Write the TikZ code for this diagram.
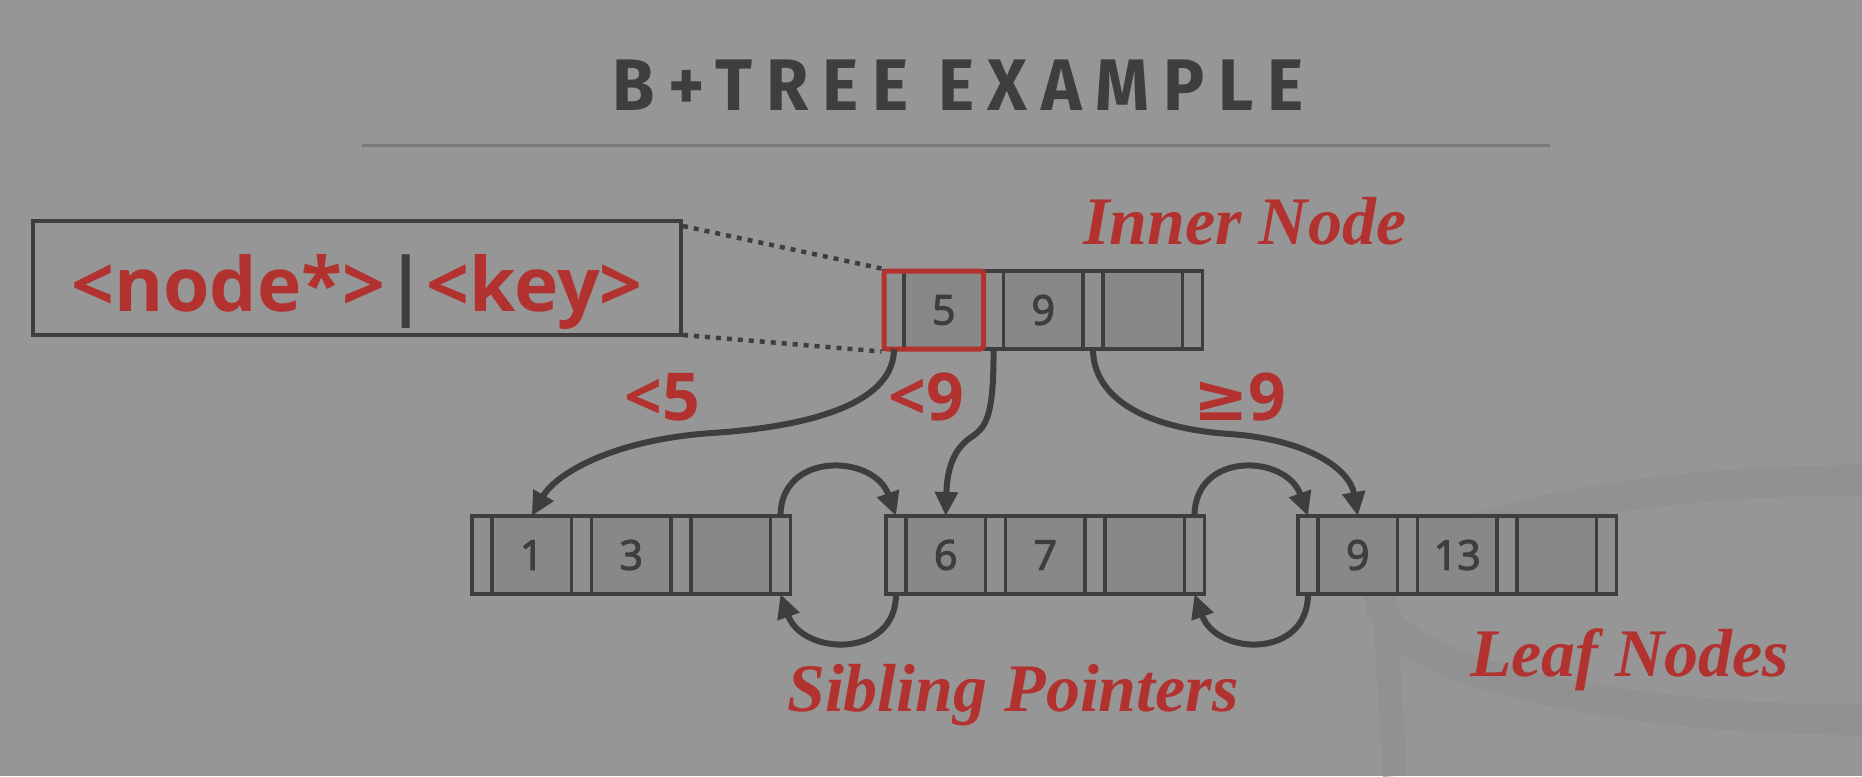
\documentclass[tikz,border=0pt]{standalone}
\usepackage{fontspec}
\usetikzlibrary{arrows.meta,calc,fit}
\newfontfamily\sansf{Open Sans}
\newfontfamily\keyf{Open Sans}[FakeBold=3]
\newfontfamily\symf{DejaVu Sans}
\newfontfamily\titlef{Fira Sans}[LetterSpace=20]
\newfontfamily\serift{Liberation Serif}
\definecolor{bg}{RGB}{150,150,150}
\definecolor{ink}{RGB}{62,62,62}
\definecolor{redt}{RGB}{178,50,48}
\definecolor{keyfill}{RGB}{136,136,136}
\definecolor{ptrfill}{RGB}{143,143,143}
\definecolor{wmdark}{RGB}{145,145,145}
\definecolor{rulec}{RGB}{122,122,122}
\tikzset{
  cell/.style={draw=ink, line width=3.5pt, inner sep=0pt, outer sep=0pt,
    minimum height=78pt, anchor=west},
  ptrcell/.style={cell, fill=ptrfill, minimum width=20pt},
  keycell/.style={cell, fill=keyfill, minimum width=79.5pt,
    font=\keyf\fontsize{41}{41}\selectfont, text=ink},
  link/.style={draw=ink, line width=6pt, -{Triangle[length=24pt,width=22pt]}},
  dotline/.style={draw=ink, line width=4.5pt, dash pattern=on 5pt off 6pt},
  redbox/.style={draw=redt, line width=5pt, rounded corners=3pt, inner sep=0pt},
  cond/.style={text=redt, inner sep=0pt, font=\sansf\bfseries\fontsize{66}{66}\selectfont},
  tag/.style={text=redt, inner sep=0pt, font=\serift\bfseries\itshape\fontsize{68}{68}\selectfont},
  wm/.style={draw=wmdark, line width=30pt},
}
\newcommand\btnode[6]{%
  \node[ptrcell] (#1p0) at (#2,#3) {};
  \node[keycell] (#1k1) at (#1p0.east) {#4};
  \node[ptrcell] (#1p1) at (#1k1.east) {};
  \node[keycell] (#1k2) at (#1p1.east) {#5};
  \node[ptrcell] (#1p2) at (#1k2.east) {};
  \node[keycell] (#1k3) at (#1p2.east) {#6};
  \node[ptrcell] (#1p3) at (#1k3.east) {};
}
\begin{document}
\begin{tikzpicture}[x=1pt,y=-1pt]
\fill[bg] (0,0) rectangle (1862,776);
\useasboundingbox (0,0) rectangle (1862,776);
% faint watermark
\begin{scope}
\clip (0,0) rectangle (1862,776);
\draw[wm] (1870,600) ellipse [x radius=490, y radius=120];
\draw[wm, line width=24pt] (1385,615) -- (1395,776);
\end{scope}
% title
\node[anchor=base, inner sep=0pt, text=ink] (title) at (958,110)
  {\scalebox{0.94}[1]{\titlef\bfseries\fontsize{73}{73}\selectfont B+TREE EXAMPLE}};
\draw[rulec, line width=3pt] (362,145) -- (1550,145);
% legend box
\node[draw=ink, line width=4pt, minimum width=648pt, minimum height=114pt, inner sep=0pt] (box) at (357,278) {};
\node[anchor=base, inner sep=0pt, font=\sansf\bfseries\fontsize{75}{75}\selectfont] (boxtxt) at (357,311)
  {\textcolor{redt}{<node*>}\textcolor{ink}{|}\textcolor{redt}{<key>}};
% nodes
\btnode{in}{884}{310}{5}{9}{}
\btnode{la}{472}{555}{1}{3}{}
\btnode{lb}{886}{555}{6}{7}{}
\btnode{lc}{1298}{555}{9}{13}{}
\node[redbox, fit=(inp0)(ink1)] (sel) {};
\draw[dotline] ($(box.north east)+(0,7)$) -- (sel.north west);
\draw[dotline] ($(box.south east)+(0,-2)$) -- (sel.south west);
% labels
\node[tag, anchor=base west] (innerlbl) at (1083,244) {Inner Node};
\node[tag, anchor=base west] (siblbl) at (787,711) {Sibling Pointers};
\node[tag, anchor=base west] (leaflbl) at (1470,676) {Leaf Nodes};
\node[cond, anchor=base] (c5) at (662,420) {<5};
\node[cond, anchor=base] (c9) at (926,420) {<9};
\node[cond, anchor=base] (cg9) at (1240,420) {{\symf\bfseries ≥}9};
% child pointers
\draw[link] (inp0.south) .. controls (894,400) and (820,426) .. (712,433)
  .. controls (610,440) and (555,475) .. (lak1.north);
\draw[link] (inp1.south) .. controls (994,420) and (985,428) .. (970,438)
  .. controls (953,450) and (947,470) .. (lbk1.north);
\draw[link] (inp2.south) .. controls (1093,395) and (1140,428) .. (1230,434)
  .. controls (1310,440) and (1350,470) .. (lck1.north);
% sibling pointers
\draw[link] (lap3.north) .. controls +(0,-65) and +(-22,-62) .. (lbp0.north);
\draw[link] (lbp0.south) .. controls +(0,65) and +(22,62) .. (lap3.south);
\draw[link] (lbp3.north) .. controls +(0,-65) and +(-22,-62) .. (lcp0.north);
\draw[link] (lcp0.south) .. controls +(0,65) and +(22,62) .. (lbp3.south);
\end{tikzpicture}
\end{document}
